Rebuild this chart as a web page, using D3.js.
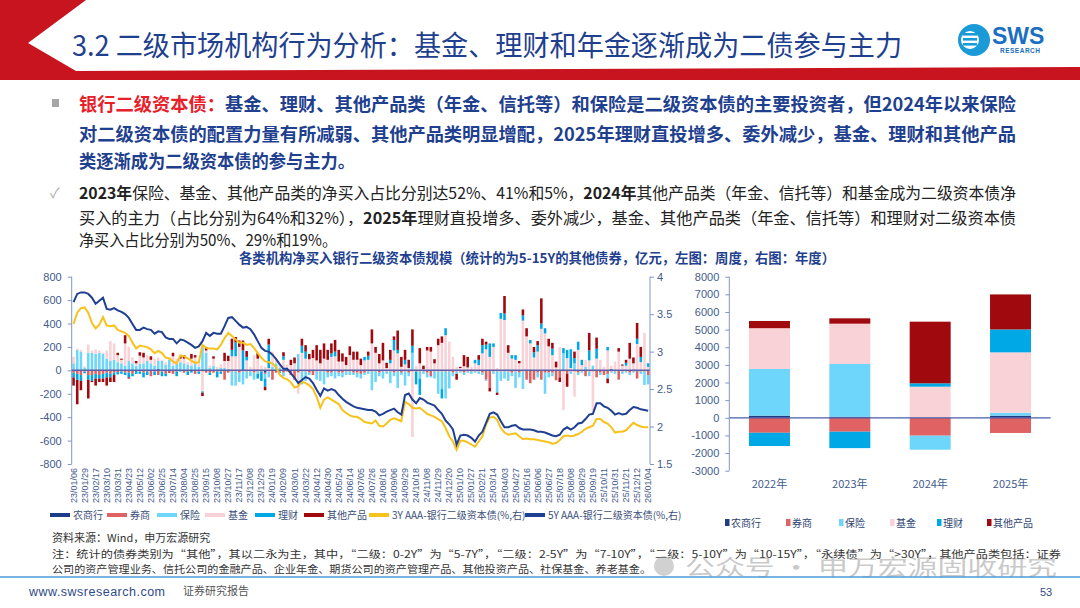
<!DOCTYPE html>
<html><head><meta charset="utf-8">
<script src="https://cdn.jsdelivr.net/npm/d3@7"></script>
<style>
body{margin:0;background:#fff;}
svg{display:block;font-family:"Noto Sans CJK SC","Noto Sans",sans-serif;}
</style></head><body>
<script>
// weekly tick labels (every 3rd week)
const weekTicks = ["23/01/06","23/01/29","23/02/17","23/03/10","23/03/31","23/04/23","23/05/12","23/06/02","23/06/25","23/07/14",
  "23/08/04","23/08/25","23/09/15","23/10/08","23/10/27","23/11/17","23/12/08","23/12/29","24/01/19","24/02/09",
  "24/03/01","24/03/22","24/04/12","24/04/30","24/05/24","24/06/14","24/07/05","24/07/26","24/08/16","24/09/06",
  "24/09/29","24/10/18","24/11/08","24/11/29","24/12/20","25/01/10","25/01/27","25/02/21","25/03/14","25/04/03",
  "25/04/27","25/05/16","25/06/06","25/06/27","25/07/18","25/08/08","25/08/29","25/09/19","25/10/11","25/10/31",
  "25/11/21","25/12/12","26/01/04"];

const seriesNames = ["农商行","券商","保险","基金","理财","其他产品"];
const seriesColors = ["#1F3C88","#E06262","#6ED6FA","#F8D2D6","#00A9E6","#A00A0F"];

// weekly net buying, 亿元
const nsh = [0,0,0,5,0,0,0,0,0,0, 0,0,0,0,0,0,0,0,5,0, 0,0,0,10,0,0,0,0,0,0, 0,0,0,0,0,0,0,0,0,0,
  0,0,0,0,0,0,0,5,0,0, 0,0,-20,0,0,0,0,0,0,0, 0,0,0,0,0,0,0,0,0,0, -10,0,0,0,0,0,0,0,0,0,
  0,0,0,0,0,0,0,0,0,0, 0,0,0,0,0,0,0,0,0,0, 0,0,0,0,0,0,0,0,0,0, 0,0,0,-10,0,0,0,0,0,0,
  0,0,0,0,0,0,0,0,0,0, 0,0,0,0,0,0,0,0,0,0, 0,0,0,0,0,0,10,0,0,0, 0,0,0,-10,0,0,0];
const qs = [-20,-30,-40,-10,-40,-40,-30,-40,-30,-20, -30,-20,-15,-10,-20,-20,-30,0,-10,-20,
  -10,-50,-10,-40,-10,-30,-10,-30,-10,0, -20,-10,0,-30,-10,-10,-20,-20,-20,-10,
  -10,-80,-20,-10,-10,-20,-10,-10,-10,-20, -10,-10,-10,-10,-80,-20,-10,-20,-10,-40,
  -80,-20,-10,-10,-20,-40,-10,-10,-10,-20, -10,-10,-20,-20,-10,-10,-20,-20,-30,-20,
  -10,-10,-10,-20,-10,-10,-10,-20,-10,-20, -10,-20,-10,-10,-10,-10,-20,-50,-10,-10,
  -10,-10,-10,-20,-10,-10,-20,-10,-10,-10, -10,-20,-80,-140,-10,-10,-10,-10,-10,-20,
  -10,-20,-10,-80,-110,-80,-20,-80,-20,-20, -20,-85,-60,-10,-30,-10,-10,-20,-10,-50,
  -10,-10,-60,-20,-40,-30,-10,-10,-80,-10, -10,-20,-10,-60,-10,-10,-40];
const bx = [60,175,160,20,150,150,140,150,140,100, 80,90,70,60,40,80,60,40,50,60,
  80,60,40,70,80,50,90,40,60,70, 60,50,40,60,30,200,150,20,40,10,
  20,20,10,-120,-120,-80,-110,-60,-40,-60, -20,0,-40,-50,30,60,20,-30,10,0,
  0,140,-110,-80,-20,0,-70,-80,-110,-40, -30,-60,-30,-40,-30,-30,-20,-40,-40,-20,
  -20,-160,-90,-30,-60,-20,-100,-30,-140,-20, -120,-30,150,0,-60,-20,-40,-10,-60,-190,
  -150,-230,-145,-30,-20,-10,-20,-10,-20,-10, -20,-20,-10,0,-20,-180,-80,-60,-80,-30,
  -140,-40,-150,0,0,0,-40,0,-180,-40, -30,0,0,145,0,-20,60,-20,-10,30,
  -40,40,0,-20,0,-40,-10,-20,0,-20, -10,-20,-10,0,-20,-115,-80];
const jj = [55,10,15,10,70,20,40,20,10,70, 170,140,60,30,190,120,50,20,70,50,
  50,30,60,30,10,20,20,80,40,30, 40,20,60,50,40,-170,20,20,60,20,
  30,60,70,120,120,200,0,80,30,130, 100,40,30,20,130,40,20,90,40,45,
  60,-180,150,100,95,105,85,60,100,90, 115,120,75,75,45,130,90,90,45,85,
  90,230,150,60,85,20,60,170,145,30, 50,20,-560,40,60,10,170,160,60,215,
  235,300,245,115,30,20,35,25,30,60, 45,145,180,115,200,20,440,430,150,100,
  90,60,425,290,230,110,160,355,315,205, 130,25,200,-330,105,20,-215,175,45,60,
  85,-340,100,90,30,170,30,75,160,40, 40,100,60,225,70,320,30];
const lc = [-40,-50,-50,-15,-40,-50,-40,-30,-40,-40, -30,-20,-20,-20,-20,-40,-20,-30,-20,-40,
  -30,0,-30,0,-40,-20,0,0,-40,-10, 0,-30,-20,0,-20,-10,0,-20,0,-50,
  -20,0,0,55,120,0,170,30,0,0, -40,-80,-70,200,0,0,-10,30,0,0,
  0,0,60,60,0,0,0,0,0,0, 30,40,0,0,0,0,0,0,0,30,
  35,0,0,0,0,0,30,90,30,0, 40,0,60,-110,-140,0,0,0,0,0,
  -80,60,0,0,0,0,0,0,0,30, 45,70,40,115,30,0,50,55,0,30,
  40,0,45,0,30,45,55,45,45,0, 55,0,0,45,70,160,45,70,45,0,
  85,0,85,0,0,30,0,0,0,0, 25,0,0,45,45,0,30];
const qt = [-70,-210,-80,0,-160,-10,-60,-30,-30,-70, -40,-60,20,10,70,-10,0,20,30,40,
  0,30,0,0,0,0,-10,30,0,20, 30,0,40,20,0,-30,30,0,20,0,
  0,70,45,95,45,55,85,50,0,0, 50,0,-30,50,0,0,0,35,0,45,
  50,0,60,55,45,70,130,115,130,85, 85,100,100,70,70,75,70,70,55,0,
  35,120,50,80,150,45,85,30,165,85, 85,70,140,0,130,30,30,40,35,55,
  55,0,0,0,-50,10,95,90,0,0, 40,55,25,-30,0,-20,0,150,65,0,
  0,20,50,70,0,45,35,215,0,65, 50,50,-40,0,-110,0,55,0,0,0,
  150,0,95,0,0,-40,0,0,30,10, 25,135,50,135,85,0,0];

// yields, %
const yield3Y = [3.37,3.52,3.58,3.59,3.52,3.38,3.31,3.36,3.46,3.35, 3.34,3.35,3.29,3.27,3.25,3.21,3.12,3.04,3.08,3.07,
  3.06,3.03,2.98,3.01,2.98,2.92,2.91,2.87,2.84,2.95, 2.94,2.91,2.88,2.85,2.86,3.09,3.05,3.04,3.04,3.03,
  3.09,3.18,3.25,3.21,3.16,3.12,3.12,3.09,3.10,3.05, 2.98,2.92,2.87,2.86,2.84,2.79,2.69,2.65,2.63,2.59,
  2.52,2.54,2.60,2.58,2.55,2.50,2.40,2.25,2.36,2.39, 2.36,2.33,2.30,2.22,2.18,2.15,2.13,2.13,2.10,2.06,
  2.05,2.04,2.08,2.01,2.00,2.04,2.09,2.11,2.09,2.07, 2.33,2.30,2.25,2.24,2.25,2.21,2.17,2.15,2.13,2.10,
  2.07,1.98,1.87,1.80,1.69,1.81,1.81,1.79,1.76,1.73, 1.80,1.87,2.03,2.12,2.13,2.09,1.98,1.92,1.89,1.90,
  1.91,1.87,1.83,1.84,1.83,1.83,1.82,1.81,1.80,1.79, 1.77,1.78,1.82,1.87,1.88,1.87,1.88,1.90,1.93,1.97,
  1.99,2.01,2.10,2.10,2.06,2.04,1.99,1.92,1.93,1.93, 1.95,2.00,2.05,2.02,2.00,1.99,1.99];
const yield5Y = [3.66,3.77,3.79,3.79,3.77,3.72,3.64,3.68,3.72,3.57, 3.56,3.58,3.55,3.53,3.50,3.45,3.37,3.29,3.29,3.32,
  3.30,3.29,3.24,3.27,3.26,3.19,3.17,3.17,3.11,3.16, 3.15,3.12,3.09,3.05,3.07,3.14,3.25,3.21,3.25,3.24,
  3.24,3.34,3.45,3.46,3.41,3.36,3.32,3.33,3.30,3.23, 3.14,3.05,3.01,3.00,2.96,2.90,2.83,2.77,2.77,2.71,
  2.65,2.58,2.62,2.66,2.64,2.58,2.49,2.41,2.51,2.48, 2.50,2.48,2.42,2.37,2.33,2.30,2.27,2.25,2.24,2.23,
  2.22,2.22,2.20,2.15,2.17,2.20,2.22,2.24,2.19,2.16, 2.42,2.44,2.36,2.31,2.38,2.36,2.32,2.30,2.28,2.22,
  2.17,2.08,2.03,1.96,1.76,1.88,1.89,1.88,1.85,1.80, 1.88,1.93,2.05,2.17,2.19,2.16,2.07,1.99,1.99,2.01,
  2.02,1.98,1.96,1.96,1.96,1.95,1.93,1.93,1.92,1.90, 1.88,1.87,1.89,1.96,1.99,1.96,1.99,2.04,2.05,2.10,
  2.16,2.17,2.31,2.31,2.27,2.25,2.21,2.16,2.18,2.16, 2.17,2.22,2.26,2.25,2.23,2.22,2.21];

// annual net buying, 亿元
const years = ["2022年","2023年","2024年","2025年"];
const yrNsh = [120,60,0,120];
const yrQs = [-850,-790,-1015,-860];
const yrBx = [2650,2990,-795,170];
const yrJj = [2310,2285,1765,3420];
const yrLc = [-750,-930,190,1300];
const yrQt = [410,305,3495,1985];

const leftTicks = [-800,-600,-400,-200,0,200,400,600,800];
const rightTicks = [1.5,2,2.5,3,3.5,4];
const annualTicks = [-3000,-2000,-1000,0,1000,2000,3000,4000,5000,6000,7000,8000];

const NUM = '"Liberation Sans",Arial,sans-serif';
const TICK = "#3F5B8C", AXIS = "#8196C4", BLUE = "#1F3F8F";
const plain = d => String(d);

const svg = d3.select("body").append("svg").attr("width",1080).attr("height",608);

// ---------- header ----------
svg.append("polygon").attr("points","0,0 86,0 28,43 76,71 1080,67 1080,80 0,80").attr("fill","#C8141E");
svg.append("text").attr("x",72).attr("y",56).attr("font-size",28).attr("fill",BLUE)
  .attr("textLength",830).attr("lengthAdjust","spacingAndGlyphs")
  .text("3.2 二级市场机构行为分析：基金、理财和年金逐渐成为二债参与主力");

// logo
const logo = svg.append("g");
logo.append("circle").attr("cx",974).attr("cy",40).attr("r",16).attr("fill","#1A9BD7");
logo.append("circle").attr("cx",970).attr("cy",40).attr("r",9).attr("fill","#fff");
[33,38,43].forEach(y => logo.append("rect").attr("x",963).attr("y",y).attr("width",14).attr("height",2.6).attr("fill","#1A9BD7"));
logo.append("text").attr("x",992).attr("y",44).attr("font-family",NUM).attr("font-weight",700)
  .attr("font-size",23).attr("fill","#1B6FC0").text("SWS");
logo.append("text").attr("x",1000).attr("y",53).attr("font-family",NUM).attr("font-weight",700)
  .attr("font-size",6.5).attr("fill","#1B6FC0").attr("textLength",40).text("RESEARCH");

// ---------- body text ----------
function textLine(x, y, size, len, parts) {
  const t = svg.append("text").attr("x",x).attr("y",y).attr("font-size",size);
  if (len) t.attr("textLength",len).attr("lengthAdjust","spacingAndGlyphs");
  parts.forEach(p => t.append("tspan").text(p[0]).attr("fill",p[1]).attr("font-weight",p[2] || 400));
  return t;
}
svg.append("rect").attr("x",52).attr("y",99).attr("width",7).attr("height",8).attr("fill","#A6A6A6");
textLine(79,110.5,18,937,[["银行二级资本债：","#E8202A",700],["基金、理财、其他产品类（年金、信托等）和保险是二级资本债的主要投资者，但2024年以来保险",BLUE,700]]);
textLine(79,141,18,937,[["对二级资本债的配置力量有所减弱、其他产品类明显增配，2025年理财直投增多、委外减少，基金、理财和其他产品",BLUE,700]]);
textLine(79,168,18,276,[["类逐渐成为二级资本债的参与主力。",BLUE,700]]);

svg.append("text").attr("x",50).attr("y",198).attr("font-size",14).attr("fill","#AAAAAA").text("✓");
const TXT = "#222";
textLine(79,199,16,937,[["2023年",TXT,700],["保险、基金、其他产品类的净买入占比分别达52%、41%和5%，",TXT],["2024年",TXT,700],["其他产品类（年金、信托等）和基金成为二级资本债净",TXT]]);
textLine(79,224,16,937,[["买入的主力（占比分别为64%和32%），",TXT],["2025年",TXT,700],["理财直投增多、委外减少，基金、其他产品类（年金、信托等）和理财对二级资本债",TXT]]);
textLine(79,246,16,258,[["净买入占比分别为50%、29%和19%。",TXT]]);

svg.append("text").attr("x",537).attr("y",263).attr("text-anchor","middle").attr("font-size",13.5)
  .attr("font-weight",700).attr("fill",BLUE).attr("textLength",596).attr("lengthAdjust","spacingAndGlyphs")
  .text("各类机构净买入银行二级资本债规模（统计的为5-15Y的其他债券，亿元，左图：周度，右图：年度）");

// ---------- left chart: weekly ----------
const n = yield5Y.length;
const weekRows = d3.range(n).map(i => ({"农商行":nsh[i],"券商":qs[i],"保险":bx[i],"基金":jj[i],"理财":lc[i],"其他产品":qt[i]}));
const xW = d3.scaleBand().domain(d3.range(n)).range([71.7,650]).paddingInner(0.3).paddingOuter(0.15);
const yL = d3.scaleLinear().domain([-800,800]).range([464,276.7]);
const yR = d3.scaleLinear().domain([1.5,4]).range([464,276.7]);
const stack = d3.stack().keys(seriesNames).offset(d3.stackOffsetDiverging);

const left = svg.append("g");
stack(weekRows).forEach((layer,k) => {
  left.append("g").attr("fill",seriesColors[k]).selectAll("rect").data(layer).join("rect")
    .attr("x",(d,i) => xW(i)).attr("width",xW.bandwidth())
    .attr("y",d => yL(Math.max(d[0],d[1]))).attr("height",d => Math.abs(yL(d[0]) - yL(d[1])));
});
left.append("line").attr("x1",71.7).attr("x2",650).attr("y1",yL(0)).attr("y2",yL(0))
  .attr("stroke","#5B5FA8").attr("stroke-width",1.5);

const lineGen = d3.line().x((d,i) => xW(i) + xW.bandwidth()/2).y(d => yR(d));
left.append("path").datum(yield3Y).attr("d",lineGen).attr("fill","none").attr("stroke","#F7C21B").attr("stroke-width",2);
left.append("path").datum(yield5Y).attr("d",lineGen).attr("fill","none").attr("stroke","#1F3F92").attr("stroke-width",2);

function styleAxis(g) {
  g.select(".domain").remove();
  g.selectAll(".tick line").attr("stroke",AXIS);
  g.selectAll("text").attr("font-family",NUM).attr("font-size",11).attr("fill",TICK);
}
const axL = left.append("g").attr("transform","translate(71.7,0)")
  .call(d3.axisLeft(yL).tickValues(leftTicks).tickSize(4).tickPadding(6).tickFormat(plain));
styleAxis(axL);
left.append("line").attr("x1",71.7).attr("x2",71.7).attr("y1",276.7).attr("y2",464).attr("stroke",AXIS);
const axR = left.append("g").attr("transform","translate(650,0)")
  .call(d3.axisRight(yR).tickValues(rightTicks).tickSize(4).tickPadding(3).tickFormat(plain));
styleAxis(axR);
left.append("line").attr("x1",650).attr("x2",650).attr("y1",276.7).attr("y2",464).attr("stroke",AXIS);

left.append("g").selectAll("text").data(weekTicks).join("text")
  .attr("transform",(d,k) => `translate(${xW(k*3) + xW.bandwidth()/2 + 3},468) rotate(-90)`)
  .attr("text-anchor","end").attr("font-family",NUM).attr("font-size",9).attr("fill",TICK).text(d => d);

// left legend
const legL = [
  ["农商行",seriesColors[0],73],["券商",seriesColors[1],130],["保险",seriesColors[2],180],["基金",seriesColors[3],228],
  ["理财",seriesColors[4],278],["其他产品",seriesColors[5],327],
  ["3Y AAA-银行二级资本债(%,右)","#F7C21B",392],["5Y AAA-银行二级资本债(%,右)","#1F3F92",548]];
legL.forEach(([name,c,tx]) => {
  svg.append("rect").attr("x",tx - 23).attr("y",513).attr("width",20).attr("height",4).attr("fill",c);
  svg.append("text").attr("x",tx).attr("y",519).attr("font-size",10).attr("fill","#3A4E7A").text(name);
});

// ---------- right chart: annual ----------
const yrRows = years.map((y,k) => ({year:y,"农商行":yrNsh[k],"券商":yrQs[k],"保险":yrBx[k],"基金":yrJj[k],"理财":yrLc[k],"其他产品":yrQt[k]}));
const xA = d3.scaleBand().domain(years).range([729.3,1050.7]).paddingInner(0.49).paddingOuter(0.245);
const yA = d3.scaleLinear().domain([-3000,8000]).range([470.7,276.7]);
const right = svg.append("g");
stack(yrRows).forEach((layer,k) => {
  right.append("g").attr("fill",seriesColors[k]).selectAll("rect").data(layer).join("rect")
    .attr("x",d => xA(d.data.year)).attr("width",xA.bandwidth())
    .attr("y",d => yA(Math.max(d[0],d[1]))).attr("height",d => Math.abs(yA(d[0]) - yA(d[1])));
});
right.append("line").attr("x1",729.3).attr("x2",1050.7).attr("y1",yA(0)).attr("y2",yA(0))
  .attr("stroke","#4A5CA8").attr("stroke-width",1.2);
const axA = right.append("g").attr("transform","translate(729.3,0)")
  .call(d3.axisLeft(yA).tickValues(annualTicks).tickSize(4).tickPadding(6).tickFormat(plain));
styleAxis(axA);
right.append("line").attr("x1",729.3).attr("x2",729.3).attr("y1",276.7).attr("y2",470.7).attr("stroke",AXIS);
right.append("g").selectAll("text").data(years).join("text")
  .attr("x",d => xA(d) + xA.bandwidth()/2).attr("y",488).attr("text-anchor","middle")
  .attr("font-size",11).attr("fill",TICK).text(d => d);

const legR = [725,786,839,890,937,987];
seriesNames.forEach((name,k) => {
  const x = legR[k];
  svg.append("rect").attr("x",x).attr("y",519).attr("width",4.5).attr("height",7).attr("fill",seriesColors[k]);
  svg.append("text").attr("x",x + 6).attr("y",527).attr("font-size",10).attr("fill","#2E4470").text(name);
});

// ---------- notes & footer ----------
textLine(52,542,11,null,[["资料来源：Wind，申万宏源研究","#333"]]);
textLine(52,557.5,10,1009,[["注：统计的债券类别为“其他”，其以二永为主，其中，“二级：0-2Y”为“5-7Y”，“二级：2-5Y”为“7-10Y”，“二级：5-10Y”为“10-15Y”，“永续债”为“>30Y”，其他产品类包括：证券","#333"]]);
textLine(52,572.5,10,599,[["公司的资产管理业务、信托公司的金融产品、企业年金、期货公司的资产管理产品、其他投资产品、社保基金、养老基金。","#333"]]);

const wm = svg.append("g").attr("opacity",0.45);
wm.append("circle").attr("cx",664).attr("cy",566).attr("r",10).attr("fill","#9A9A9A");
wm.append("text").attr("x",685).attr("y",575).attr("font-size",22).attr("fill","#8A8A8A")
  .attr("textLength",372).attr("lengthAdjust","spacingAndGlyphs").text("公众号 · 申万宏源固收研究");

svg.append("line").attr("x1",0).attr("x2",1080).attr("y1",577).attr("y2",577).attr("stroke","#4F9BD9").attr("stroke-width",1.5);
svg.append("text").attr("x",29).attr("y",596).attr("font-family",NUM).attr("font-size",12.5).attr("fill","#2E4A8A")
  .attr("textLength",136).text("www.swsresearch.com");
svg.append("text").attr("x",183).attr("y",595).attr("font-size",11).attr("fill","#555").text("证券研究报告");
svg.append("text").attr("x",1040).attr("y",596).attr("font-family",NUM).attr("font-size",11).attr("fill","#2E4A8A").text("53");
</script>
</body></html>
